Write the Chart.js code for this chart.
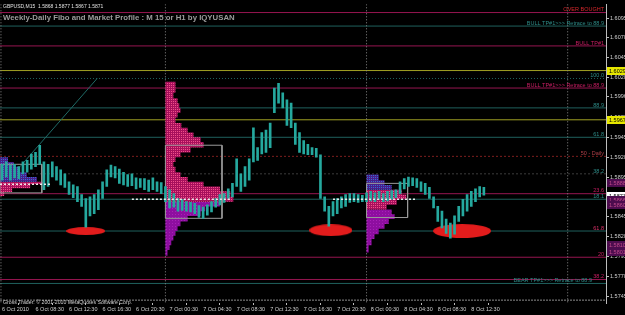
<!DOCTYPE html>
<html lang="en">

<head>
    <meta charset="UTF-8">
    <meta name="viewport" content="width=device-width, initial-scale=1.0">
    <title>GBPUSD,M15</title>
    <script src="https://cdn.jsdelivr.net/npm/chart.js@4.4.0/dist/chart.umd.min.js"></script>
    <style>
        html, body { margin: 0; padding: 0; background: #000; }
        #caixa { width: 625px; height: 315px; position: relative; }
    </style>
</head>

<body>
    <div id="caixa"><canvas id="grafico"></canvas></div>
</body>

</html>

<script>
    // half-hour bars, index 0 = 6 Oct 04:30
    const barHigh = [1.5911, 1.5914, 1.5910, 1.5911, 1.5908, 1.5914, 1.5916, 1.5924, 1.5926, 1.5935,
        1.5914, 1.5911, 1.5914, 1.5908, 1.5904, 1.5899, 1.5889, 1.5885, 1.5883, 1.5873,
        1.5868, 1.5870, 1.5873, 1.5879, 1.5889, 1.5904, 1.5910, 1.5908, 1.5905, 1.5901,
        1.5898, 1.5899, 1.5894, 1.5893, 1.5893, 1.5891, 1.5894, 1.5889, 1.5888, 1.5883,
        1.5879, 1.5874, 1.5868, 1.5867, 1.5864, 1.5863, 1.5862, 1.5859, 1.5857, 1.5860,
        1.5864, 1.5868, 1.5873, 1.5874, 1.5880, 1.5887, 1.5918, 1.5899, 1.5908, 1.5918,
        1.5957, 1.5932, 1.5951, 1.5954, 1.5963, 1.6007, 1.6013, 1.6001, 1.5992, 1.5988,
        1.5963, 1.5951, 1.5941, 1.5936, 1.5932, 1.5931, 1.5923, 1.5870, 1.5858, 1.5864,
        1.5868, 1.5870, 1.5873, 1.5874, 1.5874, 1.5873, 1.5872, 1.5875, 1.5877, 1.5875,
        1.5877, 1.5874, 1.5877, 1.5878, 1.5879, 1.5889, 1.5893, 1.5895, 1.5894, 1.5893,
        1.5889, 1.5887, 1.5882, 1.5870, 1.5858, 1.5852, 1.5842, 1.5837, 1.5846, 1.5858,
        1.5867, 1.5873, 1.5877, 1.5880, 1.5883, 1.5882];
    const barLow = [1.5891, 1.5895, 1.5891, 1.5894, 1.5893, 1.5899, 1.5901, 1.5905, 1.5908, 1.5911,
        1.5879, 1.5883, 1.5895, 1.5891, 1.5885, 1.5882, 1.5873, 1.5869, 1.5864, 1.5858,
        1.5832, 1.5846, 1.5849, 1.5854, 1.5868, 1.5883, 1.5895, 1.5894, 1.5887, 1.5885,
        1.5883, 1.5884, 1.5880, 1.5882, 1.5879, 1.5877, 1.5879, 1.5877, 1.5874, 1.5864,
        1.5856, 1.5857, 1.5852, 1.5853, 1.5852, 1.5851, 1.5849, 1.5844, 1.5843, 1.5847,
        1.5851, 1.5857, 1.5860, 1.5863, 1.5868, 1.5870, 1.5883, 1.5877, 1.5883, 1.5891,
        1.5914, 1.5916, 1.5924, 1.5926, 1.5932, 1.5976, 1.5988, 1.5982, 1.5960, 1.5957,
        1.5936, 1.5926, 1.5924, 1.5923, 1.5923, 1.5920, 1.5868, 1.5852, 1.5833, 1.5846,
        1.5849, 1.5856, 1.5858, 1.5863, 1.5864, 1.5863, 1.5864, 1.5864, 1.5865, 1.5864,
        1.5867, 1.5864, 1.5865, 1.5867, 1.5869, 1.5874, 1.5880, 1.5883, 1.5884, 1.5882,
        1.5877, 1.5873, 1.5868, 1.5856, 1.5839, 1.5831, 1.5824, 1.5818, 1.5823, 1.5839,
        1.5846, 1.5852, 1.5858, 1.5864, 1.5870, 1.5872];

    const timeTicks = [0, 8, 16, 24, 32, 40, 48, 56, 64, 72, 80, 88, 96, 104, 112];
    const timeLabels = ['6 Oct 2010', '6 Oct 08:30', '6 Oct 12:30', '6 Oct 16:30', '6 Oct 20:30',
        '7 Oct 00:30', '7 Oct 04:30', '7 Oct 08:30', '7 Oct 12:30', '7 Oct 16:30', '7 Oct 20:30',
        '8 Oct 00:30', '8 Oct 04:30', '8 Oct 08:30', '8 Oct 12:30'];
    const priceTicks = [1.6095, 1.6070, 1.6045, 1.6020, 1.5996, 1.5970, 1.5945, 1.5920, 1.5895,
        1.5870, 1.5845, 1.5820, 1.5795, 1.5770, 1.5745];

    // fibo / target levels
    const levelPrices = [1.6102, 1.6085, 1.6060, 1.6029, 1.6019, 1.6007, 1.5982, 1.5967, 1.5945,
        1.5921, 1.5899, 1.5874, 1.5867, 1.5827, 1.5794, 1.5766, 1.5761, 1.5740];
    const levelTexts = ['OVER BOUGHT', 'BULL TP#1>>> Retrace to 88.9', 'BULL TP#1', '', '100.0',
        'BULL TP#1>>> Retrace to 88.9', '88.9', '', '61.8', '50 - Daily', '38.2', '23.6', '18.1',
        '61.8', '20', '38.2', 'BEAR TP#1>>> Retrace to 88.9', ''];

    // price labels on the axis
    const markPrices = [1.6029, 1.5967, 1.5888, 1.5871, 1.5866, 1.5860, 1.5810, 1.5801];

    // market profile per day
    const p6Start = -0.48;
    const p6Prices = [1.5920, 1.5914, 1.5908, 1.5901, 1.5895, 1.5889, 1.5886, 1.5881, 1.5876, 1.5871];
    const p6Counts = [0.7, 1.9, 3.3, 4.8, 6.4, 8.8, 10.7, 7.2, 2.9, 1.0];
    const p7Start = 39;
    const p7Prices = [1.6015, 1.6007, 1.6001, 1.5994, 1.5988, 1.5982, 1.5976, 1.5970, 1.5963, 1.5957,
        1.5951, 1.5945, 1.5939, 1.5932, 1.5926, 1.5920, 1.5914, 1.5908, 1.5901, 1.5895,
        1.5889, 1.5883, 1.5877, 1.5870, 1.5864, 1.5858, 1.5852, 1.5846, 1.5839, 1.5833,
        1.5827, 1.5821, 1.5815, 1.5809, 1.5803, 1.5796];
    const p7Counts = [0.7, 2.4, 2.4, 1.9, 2.9, 3.3, 3.6, 2.9, 2.4, 3.8,
        5.3, 6.7, 8.4, 9.1, 6.0, 3.6, 2.4, 1.9, 2.4, 3.6,
        5.3, 9.1, 13.0, 15.5, 16.2, 13.0, 9.5, 8.4, 5.3, 3.6,
        2.9, 2.4, 1.9, 1.4, 1.0, 0.5];
    const p8Start = 87;
    const p8Prices = [1.5898, 1.5891, 1.5885, 1.5879, 1.5873, 1.5867, 1.5860, 1.5854, 1.5848, 1.5842,
        1.5836, 1.5830, 1.5823, 1.5817, 1.5809, 1.5800];
    const p8Counts = [1.4, 2.9, 4.3, 6.0, 8.4, 9.5, 7.2, 4.8, 6.0, 6.7, 5.3, 4.3, 2.9, 1.9, 1.2, 0.5];

    // value area boxes and POC
    const vaStart = [-0.48, 39, 87];
    const vaEnd = [9.5, 52.5, 96.8];
    const vaHigh = [1.5911, 1.5935, 1.5887];
    const vaLow = [1.5875, 1.5843, 1.5844];
    const pocPrice = [1.5886, 1.5867, 1.5867];
    const pocFrom = [-0.48, 31, 79];
    const pocTo = [11.5, 54.5, 99];

    const ellipseX = [20, 78.5, 109.8];
    const ellipseY = [1.5827, 1.5828, 1.5827];

    const daySeparators = [-0.25, 39, 87, 135];
    const trendX = [4.3, 22.7];
    const trendY = [1.5908, 1.6019];

    const X_MIN = -0.48, X_MAX = 144.15, Y_MIN = 1.57364, Y_MAX = 1.61124;

    // styles
    const TEAL = '#1f605d', CRIM = '#961550', YEL = '#a0a024';
    const levelLine = [CRIM, TEAL, CRIM, YEL, TEAL, CRIM, TEAL, YEL, TEAL, '#7e1e1e', '#3c3c3c',
        CRIM, TEAL, TEAL, CRIM, CRIM, TEAL, '#8c8c8c'];
    const levelDashes = [[], [], [], [], [1, 2], [], [], [], [], [2, 2], [2, 2], [], [], [], [], [], [], [2, 1]];
    const levelInk = ['#d8282c', '#2d8c88', '#cc1e64', '', '#2d8c88', '#cc1e64', '#2d8c88', '', '#2d8c88',
        '#b0404a', '#2d8c88', '#cc1e64', '#2d8c88', '#dc3068', '#cc1e64', '#cc1e64', '#2d8c88', ''];
    const levelShift = [0, 0, 0, 0, 0, 0, 0, 0, 0, 0, 0, 0, 0, 0, 0, 0, 12, 0];
    const markBg = ['#e6e600', '#e6e600', '#4c0c4e', '#ffffff', '#4c0c4e', '#4c0c4e', '#4c0c4e', '#4c0c4e'];
    const markInk = ['#000', '#000', '#c04a8a', '#000', '#c04a8a', '#c04a8a', '#c04a8a', '#c04a8a'];
    const ellipseSizes = [[39, 8], [43, 12], [58, 14]];
    const FONT = '"Liberation Sans", Arial, sans-serif';

    function pontilhado(base, dot, size) {
        const c = document.createElement('canvas');
        c.width = size; c.height = size;
        const g = c.getContext('2d');
        g.fillStyle = base; g.fillRect(0, 0, size, size);
        g.fillStyle = dot; g.fillRect(1, 1, 1, 1);
        return g.createPattern(c, 'repeat');
    }

    function elipse(w, h) {
        const c = document.createElement('canvas');
        c.width = w; c.height = h;
        const g = c.getContext('2d');
        g.fillStyle = '#e21c1c';
        g.beginPath();
        g.ellipse(w / 2, h / 2, w / 2, h / 2, 0, 0, Math.PI * 2);
        g.fill();
        return c;
    }

    const crimsonFill = pontilhado('#a8105c', '#f0508a', 2);
    const magentaFill = pontilhado('#8e0ea0', '#a820b8', 3);
    const blueFill = pontilhado('#4a1e8a', '#3a6ad0', 2);

    function perfil(x0, prices, counts, from, to, fill) {
        const pts = [{ x: x0, y: prices[from] }];
        for (let i = from; i <= to; i++) pts.push({ x: x0 + counts[i], y: prices[i] });
        pts.push({ x: x0, y: prices[to] });
        return {
            type: 'line', data: pts, order: 40, fill: 'shape', stepped: true,
            backgroundColor: fill, borderWidth: 0, pointRadius: 0
        };
    }

    const datasets = [];

    levelPrices.forEach(function (p, i) {
        datasets.push({
            type: 'line', order: 60, data: [{ x: X_MIN, y: p }, { x: X_MAX, y: p }],
            borderColor: levelLine[i], borderWidth: 1, borderDash: levelDashes[i], pointRadius: 0
        });
    });

    daySeparators.forEach(function (d) {
        datasets.push({
            type: 'line', order: 58, data: [{ x: d, y: Y_MAX }, { x: d, y: Y_MIN }],
            borderColor: '#8a8a8a', borderWidth: 1, borderDash: [1, 2], pointRadius: 0
        });
    });

    datasets.push({
        type: 'line', order: 55, data: trendX.map(function (x, i) { return { x: x, y: trendY[i] }; }),
        borderColor: '#1f6a66', borderWidth: 1, pointRadius: 0
    });

    datasets.push({
        type: 'scatter', order: 50,
        data: ellipseX.map(function (x, i) { return { x: x, y: ellipseY[i] }; }),
        pointStyle: ellipseSizes.map(function (s) { return elipse(s[0], s[1]); }),
        pointRadius: 10
    });

    datasets.push(perfil(p6Start, p6Prices, p6Counts, 0, 5, blueFill));
    datasets.push(perfil(p6Start, p6Prices, p6Counts, 5, 9, crimsonFill));
    datasets.push(perfil(p7Start, p7Prices, p7Counts, 0, 24, crimsonFill));
    datasets.push(perfil(p7Start, p7Prices, p7Counts, 24, 35, magentaFill));
    datasets.push(perfil(p8Start, p8Prices, p8Counts, 0, 3, blueFill));
    datasets.push(perfil(p8Start, p8Prices, p8Counts, 3, 7, crimsonFill));
    datasets.push(perfil(p8Start, p8Prices, p8Counts, 7, 15, magentaFill));

    vaStart.forEach(function (x0, i) {
        datasets.push({
            type: 'line', order: 35,
            data: [{ x: x0, y: vaHigh[i] }, { x: vaEnd[i], y: vaHigh[i] }, { x: vaEnd[i], y: vaLow[i] },
                { x: x0, y: vaLow[i] }, { x: x0, y: vaHigh[i] }],
            borderColor: '#9a9a9a', borderWidth: 1, pointRadius: 0
        });
    });

    datasets.push({
        type: 'bar', order: 20,
        data: barHigh.map(function (h, i) { return { x: i, y: [barLow[i], h] }; }),
        backgroundColor: '#25a89e', borderWidth: 0, barThickness: 2
    });

    pocPrice.forEach(function (p, i) {
        datasets.push({
            type: 'line', order: 10, data: [{ x: pocFrom[i], y: p }, { x: pocTo[i], y: p }],
            borderColor: '#e8e8e8', borderWidth: 1.5, borderDash: [2, 2], pointRadius: 0
        });
    });

    const fundo = {
        id: 'fundo',
        beforeDraw(chart) {
            const ctx = chart.ctx;
            ctx.save();
            ctx.fillStyle = '#000';
            ctx.fillRect(0, 0, chart.width, chart.height);
            ctx.restore();
        }
    };

    const textos = {
        id: 'textos',
        afterDraw(chart) {
            const { ctx, chartArea, scales } = chart;
            ctx.save();
            ctx.font = '5.5px ' + FONT;
            ctx.textAlign = 'right';
            ctx.textBaseline = 'bottom';
            levelTexts.forEach(function (t, i) {
                if (!t) return;
                ctx.fillStyle = levelInk[i];
                ctx.fillText(t, chartArea.right - 2 - levelShift[i], scales.y.getPixelForValue(levelPrices[i]));
            });

            ctx.textAlign = 'left';
            ctx.textBaseline = 'middle';
            markPrices.forEach(function (p, i) {
                const y = Math.round(scales.y.getPixelForValue(p));
                ctx.fillStyle = markBg[i];
                ctx.fillRect(chartArea.right + 1, y - 4, 19, 8);
                ctx.fillStyle = markInk[i];
                ctx.fillText(p.toFixed(4), chartArea.right + 3, y + 0.5);
            });

            ctx.textBaseline = 'alphabetic';
            ctx.fillStyle = '#e0e0e0';
            ctx.font = '5px ' + FONT;
            ctx.fillText('GBPUSD,M15  1.5868 1.5877 1.5867 1.5871', 3, 8);
            ctx.fillStyle = '#9c9c9c';
            ctx.font = 'bold 7.8px ' + FONT;
            ctx.fillText('Weekly-Daily Fibo and Market Profile : M 15 or H1 by IQYUSAN', 3, 20);
            ctx.fillStyle = '#cfcfcf';
            ctx.font = '5.2px ' + FONT;
            ctx.fillText('Gross Trader: \u00a9 2001-2010 MetaQuotes Software Corp.', 3, 304);
            ctx.restore();
        }
    };

    new Chart(document.getElementById('grafico'), {
        type: 'line',
        data: { datasets: datasets },
        options: {
            responsive: true,
            maintainAspectRatio: false,
            animation: false,
            events: [],
            layout: { padding: 0, autoPadding: false },
            plugins: { legend: { display: false }, tooltip: { enabled: false } },
            scales: {
                x: {
                    type: 'linear', min: X_MIN, max: X_MAX, offset: false,
                    afterBuildTicks: function (s) { s.ticks = timeTicks.map(function (v) { return { value: v }; }); },
                    afterFit: function (s) { s.height = 12; },
                    grid: { drawOnChartArea: false, tickLength: 2, color: '#bdbdbd' },
                    border: { display: false },
                    ticks: {
                        autoSkip: false, maxRotation: 0, align: 'start', padding: 1,
                        color: '#cfcfcf', font: { family: FONT, size: 5.5 },
                        callback: function (v, i) { return timeLabels[i]; }
                    }
                },
                y: {
                    type: 'linear', position: 'right', min: Y_MIN, max: Y_MAX,
                    afterBuildTicks: function (s) { s.ticks = priceTicks.map(function (v) { return { value: v }; }); },
                    afterFit: function (s) { s.width = 19; },
                    grid: { drawOnChartArea: false, tickLength: 3, color: '#bdbdbd' },
                    border: { display: true, color: '#bdbdbd' },
                    ticks: {
                        padding: 1, color: '#cfcfcf', font: { family: FONT, size: 5.5 },
                        callback: function (v) { return v.toFixed(4); }
                    }
                }
            }
        },
        plugins: [fundo, textos]
    });
</script>
